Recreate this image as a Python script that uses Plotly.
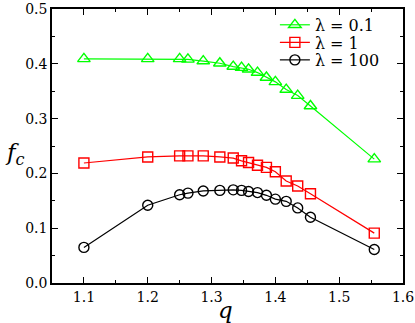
import plotly.graph_objects as go

q = [1.1, 1.2, 1.25, 1.263, 1.287, 1.313, 1.334, 1.347, 1.358, 1.372,
     1.386, 1.40, 1.417, 1.435, 1.455, 1.555]
fc_lam01 = [0.409, 0.409, 0.409, 0.408, 0.405, 0.401, 0.395, 0.393, 0.390, 0.384,
            0.375, 0.367, 0.353, 0.342, 0.323, 0.226]
fc_lam1 = [0.219, 0.230, 0.232, 0.232, 0.232, 0.230, 0.228, 0.223, 0.220, 0.215,
           0.211, 0.203, 0.186, 0.177, 0.163, 0.091]
fc_lam100 = [0.065, 0.142, 0.161, 0.164, 0.168, 0.169, 0.170, 0.169, 0.167, 0.165,
             0.160, 0.153, 0.149, 0.137, 0.120, 0.061]
names = ["λ = 0.1", "λ = 1", "λ = 100"]

SERIF = "DejaVu Serif"

fig = go.Figure()
styles = [("#00ff00", "triangle-up-open", 11),
          ("#ff0000", "square-open", 10),
          ("black", "circle-open", 10)]
legend_ids = ["legend", "legend2", "legend3"]
for ys, name, (col, sym, sz), lg in zip([fc_lam01, fc_lam1, fc_lam100], names, styles, legend_ids):
    fig.add_trace(go.Scatter(
        x=q, y=ys, name=name, mode="lines+markers", legend=lg,
        line=dict(color=col, width=1.2),
        marker=dict(symbol=sym, size=sz, color=col, line=dict(width=1.4, color=col)),
    ))

axis_common = dict(
    showline=True, linecolor="black", linewidth=1.5, mirror="allticks",
    ticks="inside", ticklen=6, tickwidth=1, tickcolor="black",
    showgrid=False, zeroline=False, automargin=False,
    tickfont=dict(family=SERIF, size=14, color="black"),
)
fig.update_xaxes(range=[1.05, 1.6], dtick=0.1, tick0=1.1, tickformat=".1f",
                 minor=dict(ticks="inside", ticklen=3, dtick=0.05, tick0=1.05, tickcolor="black"),
                 **axis_common)
fig.update_yaxes(range=[0, 0.5], dtick=0.1, tickformat=".1f",
                 minor=dict(ticks="inside", ticklen=3, dtick=0.05, tickcolor="black"),
                 **axis_common)

# axis labels as annotations (y label is horizontal in the reference)
fig.add_annotation(text="<i>q</i>", xref="paper", yref="paper",
                   x=0.495, y=-0.155, showarrow=False, xanchor="center", yanchor="bottom",
                   font=dict(family=SERIF, size=23, color="black"))
fig.add_annotation(text="<i>f</i><sub><i>c</i></sub>", xref="paper", yref="paper",
                   x=-0.105, y=0.47, showarrow=False, xanchor="center", yanchor="middle",
                   font=dict(family=SERIF, size=23, color="black"))

leg_common = dict(x=0.635, xanchor="left", yanchor="middle", bgcolor="rgba(0,0,0,0)",
                  itemwidth=30, font=dict(family=SERIF, size=16, color="black"))
fig.update_layout(
    width=415, height=323,
    margin=dict(l=52, r=12, t=9, b=40, autoexpand=False),
    plot_bgcolor="white", paper_bgcolor="white",
    showlegend=True,
    legend=dict(y=0.942, **leg_common),
    legend2=dict(y=0.878, **leg_common),
    legend3=dict(y=0.814, **leg_common),
)

fig.write_html("out.html", config={"displayModeBar": False},
               post_script="document.body.style.margin='0';")
